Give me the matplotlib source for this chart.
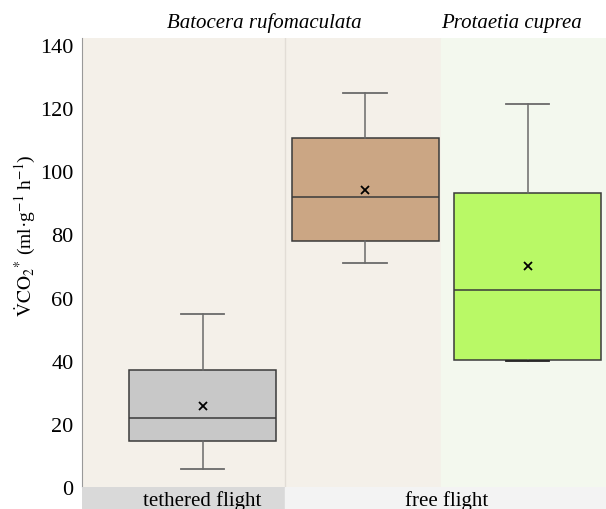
import matplotlib
matplotlib.use("Agg")
import matplotlib.pyplot as plt

plt.rcParams['font.family'] = ['Liberation Serif', 'DejaVu Serif']
plt.rcParams['mathtext.fontset'] = 'stix'

# box summaries per group
groups = ['tethered', 'Batocera rufomaculata', 'Protaetia cuprea']
whislo = [5.6, 71.0, 40.0]
q1 = [14.5, 77.8, 40.2]
med = [21.9, 92.0, 62.3]
q3 = [37.2, 110.5, 93.0]
whishi = [54.9, 124.8, 121.3]
means = [25.8, 94.2, 70.1]
box_colors = ['#c8c8c8', '#cba684', '#b9f966']
yticks = [0, 20, 40, 60, 80, 100, 120, 140]

fig = plt.figure(figsize=(6.06, 5.10), dpi=100)
ax = fig.add_axes([82 / 606, 22 / 510, 524 / 606, 449 / 510])
band = fig.add_axes([82 / 606, 0, 524 / 606, 22 / 510])

xlim = (-0.742, 2.483)
split1, split2 = 0.508, 1.468

# background regions
ax.axvspan(xlim[0], split1, color='#f4f0e9', zorder=0)
ax.axvspan(split1, split2, color='#f4f0e9', zorder=0)
ax.axvspan(split2, xlim[1], color='#f3f8ee', zorder=0)
ax.axvline(split1, color='#e2ddd6', lw=1, zorder=0.5)

stats = []
for i in range(len(groups)):
    stats.append(dict(label=groups[i], whislo=whislo[i], q1=q1[i], med=med[i],
                      q3=q3[i], whishi=whishi[i], mean=means[i], fliers=[]))

bp = ax.bxp(stats, positions=[0, 1, 2], widths=0.905, patch_artist=True,
            showmeans=True, manage_ticks=False,
            boxprops=dict(edgecolor='#3a3a3a', linewidth=1.1),
            medianprops=dict(color='#3a3a3a', linewidth=1.1),
            whiskerprops=dict(color='#6a6a6a', linewidth=1.1),
            capprops=dict(color='#6a6a6a', linewidth=1.3),
            meanprops=dict(marker='x', markeredgecolor='black',
                           markersize=6, markeredgewidth=1.3),
            capwidths=0.27)
for patch, c in zip(bp['boxes'], box_colors):
    patch.set_facecolor(c)
bp['caps'][4].set_color('#222222')

ax.set_xlim(*xlim)
ax.set_ylim(0, 142.2)
ax.set_yticks(yticks)
ax.tick_params(axis='y', length=0, labelsize=16, pad=6)
ax.set_xticks([])
for side in ['top', 'right', 'bottom']:
    ax.spines[side].set_visible(False)
ax.spines['left'].set_color('#999999')
ax.set_ylabel(r'$\dot{\mathrm{V}}\mathrm{CO}_2{}^{*}$ (ml·g$^{-1}$ h$^{-1}$)',
              fontsize=14)
ax.yaxis.set_label_coords(-0.086, 0.563)

ax.text(0.38, 1.035, 'Batocera rufomaculata', transform=ax.get_xaxis_transform(),
        ha='center', va='center', style='italic', fontsize=15)
ax.text(1.90, 1.035, 'Protaetia cuprea', transform=ax.get_xaxis_transform(),
        ha='center', va='center', style='italic', fontsize=15)

# condition band under the plot
band.set_xlim(*xlim)
band.set_ylim(0, 1)
band.axvspan(xlim[0], split1, color='#d9d9d9')
band.axvspan(split1, xlim[1], color='#f3f3f3')
band.text(0, 0.2, 'tethered flight', ha='center', va='baseline', fontsize=15)
band.text(1.5, 0.2, 'free flight', ha='center', va='baseline', fontsize=15)
band.axis('off')

fig.savefig('out.png', dpi=100)
